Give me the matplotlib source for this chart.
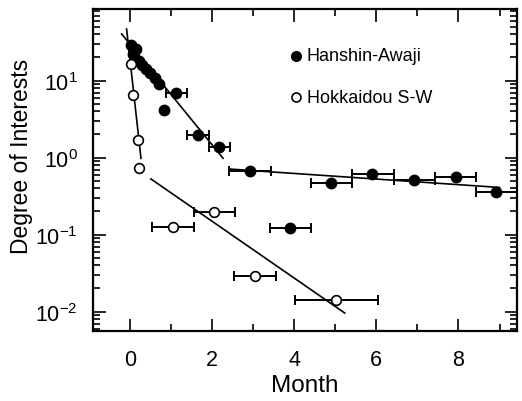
import numpy as np
import matplotlib
matplotlib.use("Agg")
import matplotlib.pyplot as plt
from matplotlib.ticker import LogLocator, FixedLocator

plt.rcParams['font.family'] = ['Liberation Sans', 'DejaVu Sans']
plt.rcParams['mathtext.fontset'] = 'custom'
plt.rcParams['mathtext.rm'] = 'Liberation Sans'

# Hanshin-Awaji (filled circles)
hanshin_x = [0.02, 0.07, 0.15, 0.22, 0.30, 0.40, 0.50, 0.60, 0.70, 0.83,
             1.12, 1.66, 2.17, 2.92, 3.91, 4.89, 5.90, 6.91, 7.93, 8.92]
hanshin_y = [29, 22, 26, 18, 16, 14.2, 12.5, 10.8, 9.1, 4.2,
             6.85, 1.97, 1.36, 0.665, 0.123, 0.465, 0.615, 0.518, 0.56, 0.355]
# horizontal error bars (only for the later points)
hanshin_eb_x = [1.12, 1.66, 2.17, 2.92, 3.91, 4.89, 5.90, 6.91, 7.93, 8.92]
hanshin_eb_y = [6.85, 1.97, 1.36, 0.665, 0.123, 0.465, 0.615, 0.518, 0.56, 0.355]
hanshin_eb_lo = [0.89, 1.40, 1.93, 2.41, 3.41, 4.40, 5.42, 6.43, 7.42, 8.42]
hanshin_eb_hi = [1.38, 1.93, 2.44, 3.43, 4.40, 5.42, 6.43, 7.42, 8.42, 9.42]

# Hokkaidou S-W (open circles)
hokkaido_x = [0.02, 0.07, 0.19, 0.22, 1.04, 2.04, 3.04, 5.01]
hokkaido_y = [16.3, 6.5, 1.70, 0.73, 0.127, 0.195, 0.029, 0.0142]
hokkaido_eb_x = [1.04, 2.04, 3.04, 5.01]
hokkaido_eb_y = [0.127, 0.195, 0.029, 0.0142]
hokkaido_eb_lo = [0.55, 1.56, 2.54, 4.03]
hokkaido_eb_hi = [1.56, 2.57, 3.55, 6.04]

# fitted lines (end points)
fit_h1_x, fit_h1_y = [-0.20, 2.27], [40.4, 0.98]
fit_h2_x, fit_h2_y = [2.45, 9.0], [0.71, 0.41]
fit_k1_x, fit_k1_y = [-0.08, 0.27], [46.9, 0.98]
fit_k2_x, fit_k2_y = [0.51, 5.23], [0.53, 0.0096]

fig = plt.figure(figsize=(5.22, 4.02), dpi=100)
ax = fig.add_axes([0.178, 0.175, 0.812, 0.800])

# fit lines
for fx, fy in [(fit_h1_x, fit_h1_y), (fit_h2_x, fit_h2_y),
               (fit_k1_x, fit_k1_y), (fit_k2_x, fit_k2_y)]:
    ax.plot(fx, fy, color='black', lw=1.2, zorder=2)

# error bars
def xerr_of(xs, lo, hi):
    return [np.array(xs) - np.array(lo), np.array(hi) - np.array(xs)]

ax.errorbar(hanshin_eb_x, hanshin_eb_y,
            xerr=xerr_of(hanshin_eb_x, hanshin_eb_lo, hanshin_eb_hi),
            fmt='none', ecolor='black', elinewidth=1.4, capsize=3.5,
            capthick=1.4, zorder=3)
ax.errorbar(hokkaido_eb_x, hokkaido_eb_y,
            xerr=xerr_of(hokkaido_eb_x, hokkaido_eb_lo, hokkaido_eb_hi),
            fmt='none', ecolor='black', elinewidth=1.4, capsize=3.5,
            capthick=1.4, zorder=3)

# markers
ax.plot(hanshin_x, hanshin_y, 'o', color='black', ms=7.5, zorder=4)
ax.plot(hokkaido_x, hokkaido_y, 'o', mfc='white', mec='black', mew=1.2,
        ms=7, zorder=4)

ax.set_yscale('log')
ax.set_xlim(-0.90, 9.42)
ax.set_ylim(10 ** -2.247, 10 ** 1.93)

ax.xaxis.set_major_locator(FixedLocator([0, 2, 4, 6, 8]))
ax.xaxis.set_minor_locator(FixedLocator([1, 3, 5, 7, 9]))
ax.yaxis.set_major_locator(LogLocator(base=10, numticks=10))
ax.yaxis.set_minor_locator(LogLocator(base=10, subs=np.arange(2, 10), numticks=10))

ax.tick_params(which='both', direction='in', top=True, right=True, width=1.2)
ax.tick_params(which='major', length=9)
ax.tick_params(which='minor', length=5)
ax.tick_params(axis='x', which='major', labelsize=15.5, pad=13)
ax.tick_params(axis='y', which='major', labelsize=15.5, pad=11)
for sp in ax.spines.values():
    sp.set_linewidth(1.6)

ax.set_xlabel('Month', fontsize=17.5, labelpad=3)
ax.set_ylabel('Degree of Interests', fontsize=16.5)
ax.yaxis.set_label_coords(-0.142, 0.545)

# legend drawn as in the figure
ax.plot([0.478], [0.855], 'o', color='black', ms=7, transform=ax.transAxes,
        clip_on=False)
ax.text(0.505, 0.855, 'Hanshin-Awaji', transform=ax.transAxes,
        fontsize=13, va='center', ha='left')
ax.plot([0.478], [0.725], 'o', mfc='white', mec='black', mew=1.2, ms=6.5,
        transform=ax.transAxes, clip_on=False)
ax.text(0.505, 0.725, 'Hokkaidou S-W', transform=ax.transAxes,
        fontsize=13, va='center', ha='left')

fig.savefig('out.png', dpi=100)
